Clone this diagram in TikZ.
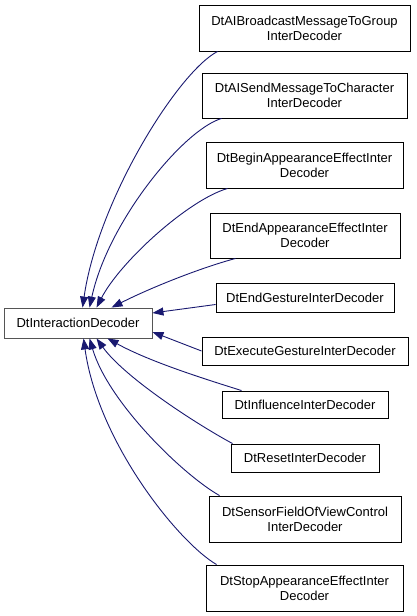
\documentclass[tikz,border=0pt]{standalone}
\usepackage{fontspec}
\setmainfont{Liberation Sans}
\usetikzlibrary{arrows.meta,calc}
\definecolor{edgeblue}{HTML}{191970}
\definecolor{basegray}{HTML}{555555}
\begin{document}
\begin{tikzpicture}[x=1pt,y=-1pt,
  box/.style={draw=black, line width=0.9pt, fill=white, inner sep=0pt, align=center,
    font=\fontsize{13}{15}\selectfont},
  edge/.style={draw=edgeblue, line width=0.9pt, -{Triangle[length=11pt,width=8pt]}}]
\useasboundingbox (0,0) rectangle (416,616);
\node[box, draw=basegray, minimum width=148pt, minimum height=30pt] (base) at (78,323) {DtInteractionDecoder};
\node[box, minimum width=211pt, minimum height=46pt] (b1) at (304.5,28) {DtAIBroadcastMessageToGroup\\InterDecoder};
\node[box, minimum width=205pt, minimum height=45pt] (b2) at (304.5,95.5) {DtAISendMessageToCharacter\\InterDecoder};
\node[box, minimum width=197pt, minimum height=46pt] (b3) at (304.5,165) {DtBeginAppearanceEffectInter\\Decoder};
\node[box, minimum width=190pt, minimum height=45pt] (b4) at (305,235.5) {DtEndAppearanceEffectInter\\Decoder};
\node[box, minimum width=178pt, minimum height=29pt] (b5) at (305,297.5) {DtEndGestureInterDecoder};
\node[box, minimum width=206pt, minimum height=28pt] (b6) at (305,351) {DtExecuteGestureInterDecoder};
\node[box, minimum width=166pt, minimum height=27pt] (b7) at (305,404.5) {DtInfluenceInterDecoder};
\node[box, minimum width=148pt, minimum height=28pt] (b8) at (305,458) {DtResetInterDecoder};
\node[box, minimum width=192pt, minimum height=46pt] (b9) at (305,519) {DtSensorFieldOfViewControl\\InterDecoder};
\node[box, minimum width=197pt, minimum height=46pt] (b10) at (304.5,588) {DtStopAppearanceEffectInter\\Decoder};

\draw[edge] ($(b1.south west)+(19,0)$) .. controls (178,72) and (98,200) .. ($(base.north west)+(79,0)$);
\draw[edge] ($(b2.south west)+(20,0)$) .. controls (183,130) and (108,222) .. ($(base.north west)+(86,0)$);
\draw[edge] ($(b3.south west)+(22,0)$) .. controls (188,200) and (120,262) .. ($(base.north west)+(93,0)$);
\draw[edge] ($(b4.south west)+(26,0)$) .. controls (200,268) and (150,288) .. ($(base.north west)+(108,0)$);
\draw[edge] ($(b5.west)+(0,7)$) -- ($(base.east)+(0,-10)$);
\draw[edge] (b6.west) -- ($(base.east)+(0,9)$);
\draw[edge] ($(b7.north west)+(20,0)$) .. controls (208,380) and (150,362) .. ($(base.south west)+(104,0)$);
\draw[edge] ($(b8.north west)+(2,0)$) .. controls (198,425) and (125,378) .. ($(base.south west)+(93,0)$);
\draw[edge] ($(b9.north west)+(11,0)$) .. controls (183,475) and (108,402) .. ($(base.south west)+(86,0)$);
\draw[edge] ($(b10.north west)+(11,0)$) .. controls (178,542) and (98,442) .. ($(base.south west)+(80,0)$);
\end{tikzpicture}
\end{document}
